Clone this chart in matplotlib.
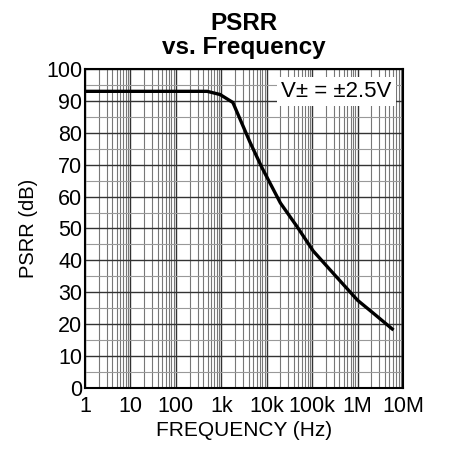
import numpy as np
import matplotlib
matplotlib.use("Agg")
import matplotlib.pyplot as plt
from matplotlib.ticker import LogLocator, NullFormatter, FixedLocator

freq = [1, 10, 100, 490, 940, 1800, 4300, 7900, 20000, 47000, 105000, 250000, 1.0e6, 2.2e6, 5.8e6]
psrr = [93, 93, 93, 93, 92, 89.5, 77, 69, 58, 50.5, 43, 37, 27.5, 23.5, 18.5]
xticks = [1, 10, 100, 1e3, 1e4, 1e5, 1e6, 1e7]
xlabels = ["1", "10", "100", "1k", "10k", "100k", "1M", "10M"]
yticks = list(range(0, 101, 10))

plt.rcParams['font.family'] = ['Liberation Sans', 'DejaVu Sans']

fig = plt.figure(figsize=(4.49, 4.49), dpi=100)
ax = fig.add_axes([85/449, 1-388/449, 318/449, 319/449])

ax.semilogx(freq, psrr, color='black', lw=2.4, solid_joinstyle='miter', zorder=5)
ax.set_xlim(1, 1e7)
ax.set_ylim(0, 100)

ax.xaxis.set_major_locator(FixedLocator(xticks))
ax.set_xticklabels(xlabels)
ax.xaxis.set_minor_locator(LogLocator(base=10, subs=np.arange(2, 10), numticks=20))
ax.xaxis.set_minor_formatter(NullFormatter())
ax.set_yticks(yticks)
ax.set_yticks(np.arange(5, 100, 10), minor=True)

ax.grid(which='major', color='#333333', lw=1.0)
ax.grid(which='minor', axis='x', color='#777777', lw=0.8)
ax.grid(which='minor', axis='y', color='#999999', lw=0.8)
ax.tick_params(which='both', length=0, labelsize=15.5)
ax.tick_params(axis='x', pad=6)
ax.tick_params(axis='y', pad=2)
for s in ax.spines.values():
    s.set_linewidth(1.5)

ax.set_xlabel("FREQUENCY (Hz)", fontsize=15, labelpad=3)
ax.set_ylabel("PSRR (dB)", fontsize=14.5, labelpad=6)
ax.set_title("PSRR\nvs. Frequency", fontsize=17.5, fontweight='bold', linespacing=1.05, pad=11)

ax.text(0.965, 0.93, "V± = ±2.5V", transform=ax.transAxes, ha='right', va='center',
        fontsize=16, zorder=6,
        bbox=dict(facecolor='white', edgecolor='none', pad=3))

fig.savefig("out.png", dpi=100)
